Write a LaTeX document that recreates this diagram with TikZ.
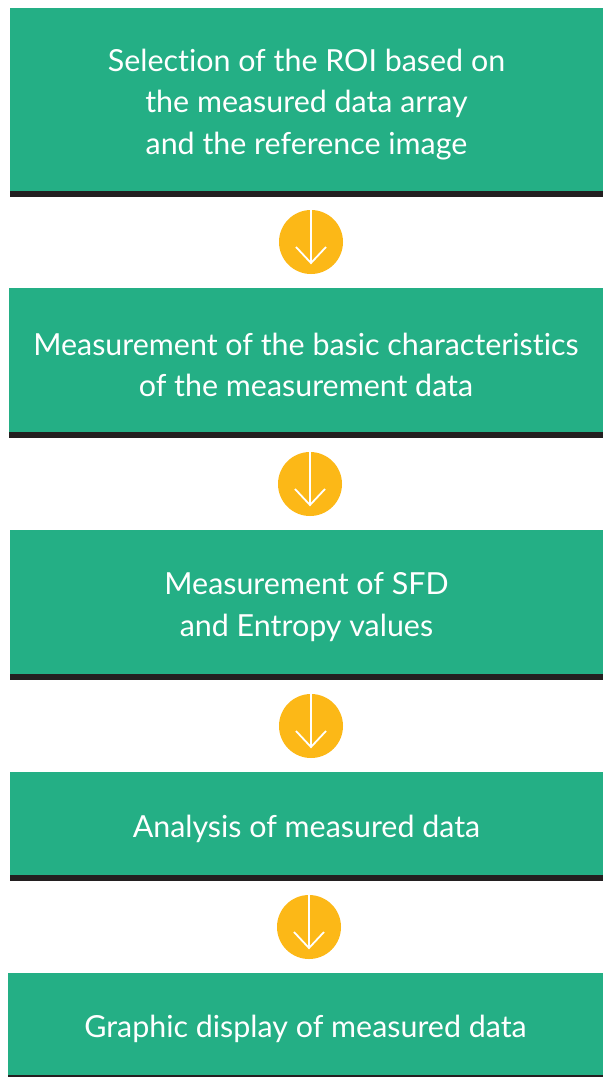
\documentclass[tikz,border=0pt]{standalone}
\usepackage{fontspec}
\setmainfont[Ligatures={NoCommon}]{Lato}
\usetikzlibrary{calc}
\definecolor{boxgreen}{HTML}{24AF85}
\definecolor{bandgray}{HTML}{231F20}
\definecolor{stepyellow}{HTML}{FCB817}
\tikzset{
  stepbox/.style={fill=boxgreen, draw=none, inner sep=0pt},
  steptext/.style={inner sep=0pt, text=white, align=center,
    font=\fontsize{30.4}{41.5}\selectfont},
  band/.style={fill=bandgray, draw=none},
  stepdot/.style={circle, fill=stepyellow, draw=none, minimum size=64pt, inner sep=0pt},
  downarrow/.style={draw=white, line width=1.8pt}
}
\newcommand{\stepblock}[6]{%
  % #1 name, #2 left, #3 top, #4 bottom of green, #5 bottom of band, #6 text
  \fill[band] (#2,#4) rectangle (603,#5);
  \node[stepbox, minimum width={603pt-#2pt}, minimum height={#4pt-#3pt}]
    (#1) at ({(#2+603)/2},{(#3+#4)/2}) {};
  \node[steptext] (#1-text) at ($(#1.center)+(0,5)$) {#6};
}
\newcommand{\stepdown}[3]{%
  % #1 name, #2 x, #3 y of the circle centre
  \node[stepdot] (#1) at (#2,#3) {};
  \draw[downarrow] (#1.north) -- ($(#1.center)+(0,21)$);
  \draw[downarrow, line join=miter] ($(#1.center)+(-15,5)$) -- ($(#1.center)+(0,21)$) -- ($(#1.center)+(15,5)$);
}
\begin{document}
\begin{tikzpicture}[x=1pt,y=-1pt]
  \useasboundingbox[fill=white] (0,0) rectangle (603,1077);

  \stepblock{roi}{10}{8}{191}{197}{Selection of the ROI based on\\the measured data array\\ and the reference image}
  \stepblock{basic}{9}{288}{432}{438}{Measurement of the basic characteristics\\of the measurement data}
  \stepblock{sfd}{10}{530}{674}{680}{Measurement of SFD\\ and Entropy values}
  \stepblock{analysis}{10}{772}{875}{881}{Analysis of measured data}
  \stepblock{graphic}{8}{973}{1075}{1077}{Graphic display of measured data}

  \stepdown{d1}{311}{242}
  \stepdown{d2}{310}{484}
  \stepdown{d3}{311}{726}
  \stepdown{d4}{309}{927}
\end{tikzpicture}
\end{document}
